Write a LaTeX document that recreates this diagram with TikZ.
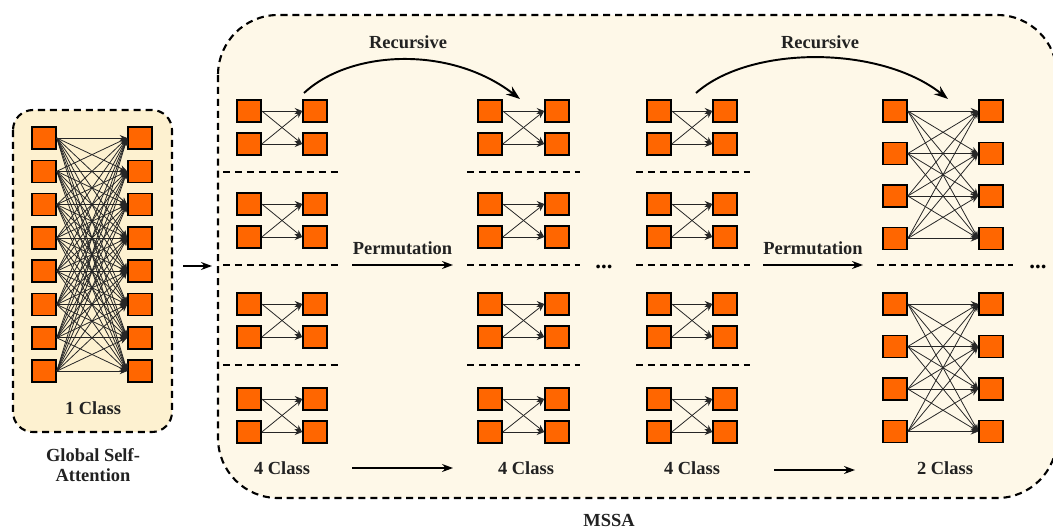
\documentclass[tikz,border=0pt]{standalone}
\usepackage{fontspec}
\setmainfont{Liberation Serif}
\usetikzlibrary{arrows.meta, positioning, calc}
\definecolor{tokenorange}{RGB}{255, 102, 0}
\definecolor{gsafill}{RGB}{253, 241, 208}
\definecolor{mssafill}{RGB}{254, 248, 232}
\definecolor{textdark}{RGB}{34, 34, 34}
\tikzstyle{token} = [rectangle, draw=black, fill=tokenorange, line width=0.9pt, minimum width=0.48cm, minimum height=0.44cm, inner sep=0pt]
\tikzstyle{link} = [-{Stealth[length=1.5mm, width=1.2mm]}, line width=0.45pt, draw=black!85]
\tikzstyle{panel} = [draw=black, line width=1.2pt, dash pattern=on 4pt off 2.8pt]
\tikzstyle{divider} = [line width=1.2pt, dash pattern=on 4pt off 2.8pt]
\tikzstyle{flow} = [-{Stealth[length=2.2mm, width=1.6mm]}, line width=0.8pt]
\tikzstyle{recur} = [-{Stealth[length=2.8mm, width=2mm]}, line width=1.1pt]
\tikzstyle{classlabel} = [font=\bfseries\fontsize{10.5}{11.5}\selectfont, text=textdark]

\begin{document}
\begin{tikzpicture}[x=0.02cm, y=-0.02cm]
    \useasboundingbox (0,0) rectangle (1053,531);

    % Panels
    \draw[panel, fill=gsafill, rounded corners=0.4cm] (13,110) rectangle (172,432);
    \draw[panel, fill=mssafill, rounded corners=1.2cm] (218,15) rectangle (1057,498);

    % Global self-attention: every token attends to every token
    \foreach \i in {1,...,8} {
        \node[token] (g-l\i) at (44, {138+33.3*(\i-1)}) {};
        \node[token] (g-r\i) at (140, {138+33.3*(\i-1)}) {};
    }
    \foreach \p in {1,...,8}
        \foreach \q in {1,...,8}
            \draw[link] (g-l\p.east) -- (g-r\q.west);
    \node[classlabel] (gsaclass) at (93,408) {1 Class};
    \node[classlabel, align=center] (gsaname) at (93,465) {Global Self-\\Attention};

    % Into MSSA
    \coordinate (gsaout) at (183,266);
    \coordinate (mssain) at (212,266);
    \draw[flow] (gsaout) -- (mssain);

    % 4 Class stages - four groups of 2x2 tokens
    \foreach \col/\xl/\xr in {a/249/315, b/490/557, c/659/725} {
        \foreach \g/\y in {1/111, 2/204, 3/304, 4/399} {
            \node[token] (\col\g-l1) at (\xl, \y) {};
            \node[token] (\col\g-l2) at (\xl, \y+33) {};
            \node[token] (\col\g-r1) at (\xr, \y) {};
            \node[token] (\col\g-r2) at (\xr, \y+33) {};
            \foreach \p in {1,2}
                \foreach \q in {1,2}
                    \draw[link] (\col\g-l\p.east) -- (\col\g-r\q.west);
        }
    }

    % Group dividers
    \foreach \xa/\xb in {223/340, 467/580, 636/750}
        \foreach \y in {172, 265, 365}
            \draw[divider] (\xa,\y) -- (\xb,\y);
    \draw[divider] (877,265) -- (1013,265);
    \node[anchor=base, font=\bfseries\fontsize{13}{13}\selectfont, inner sep=0pt] (dots1) at (604,268) {...};
    \node[anchor=base, font=\bfseries\fontsize{13}{13}\selectfont, inner sep=0pt] (dots2) at (1038,268) {...};

    % 2 Class stage - two groups of 4x4 tokens
    \foreach \g/\y in {1/111, 2/304} {
        \foreach \k in {1,...,4} {
            \node[token] (d\g-l\k) at (895, {\y+42.5*(\k-1)}) {};
            \node[token] (d\g-r\k) at (991, {\y+42.5*(\k-1)}) {};
        }
        \foreach \p in {1,...,4}
            \foreach \q in {1,...,4}
                \draw[link] (d\g-l\p.east) -- (d\g-r\q.west);
    }

    % Class labels
    \node[classlabel] (aclass) at (282,468) {4 Class};
    \node[classlabel] (bclass) at (526,468) {4 Class};
    \node[classlabel] (cclass) at (692,468) {4 Class};
    \node[classlabel] (dclass) at (945,468) {2 Class};
    \node[classlabel] (mssaname) at (609,520) {MSSA};

    % Permutation arrows
    \coordinate (perm1s) at (352,265);
    \coordinate (perm1e) at (453,265);
    \coordinate (perm2s) at (763,265);
    \coordinate (perm2e) at (863,265);
    \draw[flow] (perm1s) -- (perm1e) node[midway, above=2pt, classlabel] {Permutation};
    \draw[flow] (perm2s) -- (perm2e) node[midway, above=2pt, classlabel] {Permutation};

    % Stage arrows along the bottom
    \coordinate (step1s) at (352,468);
    \coordinate (step1e) at (453,468);
    \coordinate (step2s) at (774,470);
    \coordinate (step2e) at (855,470);
    \draw[flow] (step1s) -- (step1e);
    \draw[flow] (step2s) -- (step2e);

    % Recursive arcs
    \coordinate (rec1s) at (304,93);
    \coordinate (rec1e) at (520,99);
    \coordinate (rec2s) at (696,93);
    \coordinate (rec2e) at (948,99);
    \draw[recur] (rec1s) .. controls (350,50) and (450,45) .. (rec1e);
    \draw[recur] (rec2s) .. controls (750,45) and (880,45) .. (rec2e);
    \node[classlabel] (rec1) at (408,42) {Recursive};
    \node[classlabel] (rec2) at (820,42) {Recursive};
\end{tikzpicture}
\end{document}
